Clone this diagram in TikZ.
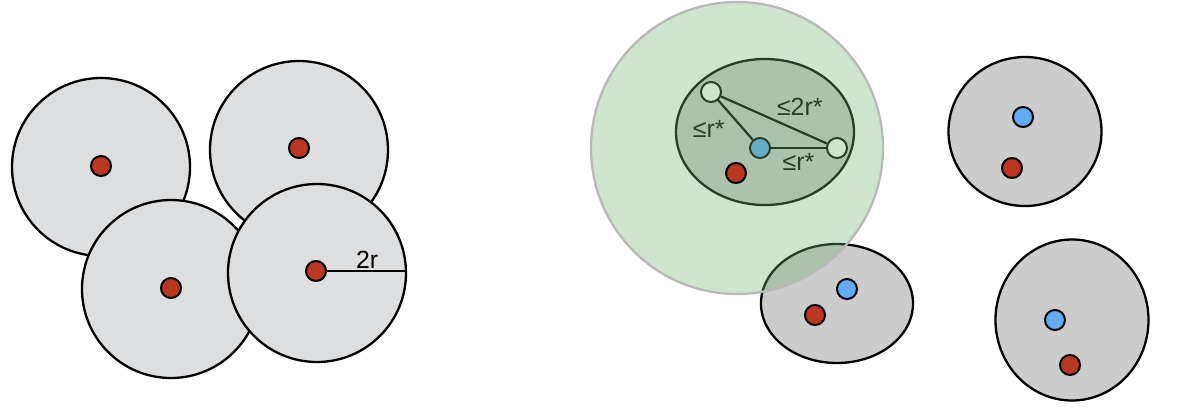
\documentclass[tikz,border=0pt]{standalone}
\usepackage{fontspec}
\setmainfont{Liberation Sans}
\usetikzlibrary{shapes.geometric}
\definecolor{diskgray}{RGB}{221,222,224}
\definecolor{blobgray}{RGB}{204,204,204}
\definecolor{ptred}{RGB}{186,55,34}
\definecolor{ptblue}{RGB}{100,170,245}
\definecolor{zonegreen}{RGB}{115,178,115}
\definecolor{zonerim}{RGB}{185,185,185}

\begin{document}
\begin{tikzpicture}[
  x=1bp,y=-1bp,
  every node/.style={font=\fontsize{25}{29}\selectfont},
  disk/.style={circle,draw,line width=2.3bp,fill=diskgray,inner sep=0pt,minimum size=178bp},
  blob/.style={ellipse,draw,line width=2.3bp,fill=blobgray,inner sep=0pt},
  pt/.style={circle,draw,line width=2bp,inner sep=0pt,minimum size=20bp},
  redpt/.style={pt,fill=ptred},
  bluept/.style={pt,fill=ptblue},
  openpt/.style={pt,fill=white},
  seg/.style={line width=2.2bp}
]
\useasboundingbox (0,0) rectangle (1184,412);

% left: disks of radius 2r
\node[disk] (c1) at (101,167) {};
\node[redpt] (d1) at (101,166) {};
\node[disk] (c2) at (299,150) {};
\node[redpt] (d2) at (299,148) {};
\node[disk] (c3) at (171,289) {};
\node[redpt] (d3) at (171,288) {};
\node[disk] (c4) at (317,273) {};
\node[redpt] (d4) at (316,271) {};
\draw[seg] (d4) -- (d4 -| c4.east) node[midway,above,inner sep=1bp]{2r};

% right: clusters
\node[blob,minimum width=152bp,minimum height=119bp] (e1) at (837,303.5) {};
\node[bluept] (b1) at (847,289) {};
\node[redpt] (r1) at (815,315) {};
\node[blob,minimum width=153bp,minimum height=149bp] (e2) at (1025,131.5) {};
\node[bluept] (b2) at (1023,117) {};
\node[redpt] (r2) at (1012,168) {};
\node[blob,minimum width=153bp,minimum height=161bp] (e3) at (1072,320) {};
\node[bluept] (b3) at (1055,320) {};
\node[redpt] (r3) at (1070,365) {};

% cluster inside the green zone
\node[blob,minimum width=178bp,minimum height=146bp] (e0) at (765,132) {};
\node[openpt] (w1) at (711,92) {};
\node[openpt] (w2) at (837,148) {};
\node[bluept] (b0) at (760,148) {};
\draw[seg] (w1) -- (b0) node[pos=0.6,left,xshift=-10bp,yshift=-5bp]{≤r*};
\draw[seg] (w1) -- (w2) node[pos=0.6,above right,xshift=-12bp,yshift=5bp]{≤2r*};
\draw[seg] (b0) -- (w2) node[midway,below,inner sep=1bp,yshift=-3bp]{≤r*};

\node[circle,draw=zonerim,line width=2.3bp,fill=zonegreen,fill opacity=0.35,
  inner sep=0pt,minimum size=292bp] (g) at (737,148) {};
\node[redpt] (r0) at (736,173) {};
\end{tikzpicture}
\end{document}
